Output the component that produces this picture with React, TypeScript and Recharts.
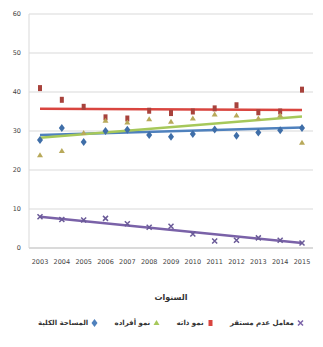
import { ComposedChart, Line, XAxis, YAxis, CartesianGrid, ReferenceLine } from "recharts";

const years = ["2003", "2004", "2005", "2006", "2007", "2008", "2009", "2010", "2011", "2012", "2013", "2014", "2015"];
const totalArea = [27.7, 30.8, 27.2, 30.0, 30.3, 29.0, 28.5, 29.2, 30.4, 28.8, 29.6, 30.2, 30.8];
const growthMembers = [23.8, 24.9, 29.5, 32.6, 32.2, 33.0, 32.4, 33.2, 34.2, 34.0, 33.2, 34.0, 27.0];
const growthSelf = [41.0, 38.0, 36.2, 33.5, 33.2, 35.2, 34.6, 35.0, 35.8, 36.6, 34.8, 35.0, 40.6];
const instability = [8.0, 7.3, 7.2, 7.6, 6.2, 5.3, 5.6, 3.6, 1.8, 2.0, 2.6, 2.0, 1.3];

// trend line ends (first year, last year)
const trendArea = [29.0, 30.9];
const trendMembers = [28.3, 33.7];
const trendSelf = [35.7, 35.4];
const trendInstability = [8.0, 1.3];

const yTicks = [0, 10, 20, 30, 40, 50, 60];

const BLUE = "#4f81bd";
const GREEN = "#a6c85a";
const RED = "#d9453f";
const PURPLE = "#7a62a8";

const data = years.map((year, i) => ({
  year,
  area: totalArea[i],
  members: growthMembers[i],
  self: growthSelf[i],
  instability: instability[i],
}));

type Shape = "diamond" | "square" | "triangle" | "cross";

function marker(shape: Shape, color: string) {
  return (props: any) => {
    const { cx, cy, index } = props;
    if (cx == null || cy == null) return <g key={index} />;
    if (shape === "diamond")
      return <path key={index} d={`M${cx},${cy - 4}L${cx + 3},${cy}L${cx},${cy + 4}L${cx - 3},${cy}Z`} fill={color} />;
    if (shape === "square") return <rect key={index} x={cx - 2} y={cy - 3} width={4} height={6} fill={color} />;
    if (shape === "triangle")
      return <path key={index} d={`M${cx},${cy - 3}L${cx + 3},${cy + 2}L${cx - 3},${cy + 2}Z`} fill={color} />;
    return (
      <path key={index} d={`M${cx - 2.5},${cy - 2.5}L${cx + 2.5},${cy + 2.5}M${cx + 2.5},${cy - 2.5}L${cx - 2.5},${cy + 2.5}`} stroke={color} strokeWidth={1.5} />
    );
  };
}

const legendItems: { label: string; color: string; shape: Shape }[] = [
  { label: "المساحة الكلية", color: BLUE, shape: "diamond" },
  { label: "نمو أفراده", color: GREEN, shape: "triangle" },
  { label: "نمو ذاته", color: RED, shape: "square" },
  { label: "معامل عدم مستقر", color: PURPLE, shape: "cross" },
];

function trend(ends: number[], color: string) {
  return (
    <ReferenceLine
      segment={[
        { x: years[0], y: ends[0] },
        { x: years[years.length - 1], y: ends[1] },
      ]}
      stroke={color}
      strokeWidth={2.5}
    />
  );
}

export default function App() {
  return (
    <div style={{ position: "absolute", left: 0, top: 0, width: 323, height: 347, background: "#fff", fontFamily: "'DejaVu Sans', sans-serif" }}>
      <ComposedChart width={323} height={347} data={data} margin={{ top: 14, right: 10, bottom: 39, left: 0 }}>
        <CartesianGrid vertical={false} stroke="#d9d9d9" />
        <XAxis
          dataKey="year"
          padding={{ left: 11, right: 11 }}
          height={60}
          tickLine={false}
          tickSize={0}
          tickMargin={11}
          stroke="#c8c8c8"
          tick={{ fontSize: 6.5, fill: "#444" }}
          interval={0}
          label={{ value: "السنوات", position: "insideBottom", offset: 8, fontSize: 8, fontWeight: 700, fill: "#333" }}
        />
        <YAxis
          width={29}
          domain={[0, 60]}
          ticks={yTicks}
          tickLine={false}
          tickSize={0}
          tickMargin={8}
          stroke="#d9d9d9"
          tick={{ fontSize: 6.5, fill: "#444" }}
        />
        {trend(trendSelf, RED)}
        {trend(trendArea, BLUE)}
        {trend(trendMembers, GREEN)}
        {trend(trendInstability, PURPLE)}
        <Line dataKey="self" stroke="none" dot={marker("square", "#a8423c")} activeDot={false} isAnimationActive={false} />
        <Line dataKey="members" stroke="none" dot={marker("triangle", "#b8a95a")} activeDot={false} isAnimationActive={false} />
        <Line dataKey="area" stroke="none" dot={marker("diamond", "#3f6ea8")} activeDot={false} isAnimationActive={false} />
        <Line dataKey="instability" stroke="none" dot={marker("cross", "#6a5a98")} activeDot={false} isAnimationActive={false} />
      </ComposedChart>
      <div
        style={{
          position: "absolute",
          left: 38,
          top: 319,
          width: 266,
          display: "flex",
          justifyContent: "space-between",
          fontSize: 7,
          fontWeight: 700,
          color: "#333",
        }}
      >
        {legendItems.map((item) => (
          <span key={item.label} style={{ display: "inline-flex", alignItems: "center", gap: 3 }}>
            <span>{item.label}</span>
            <svg width={7} height={8}>
              {marker(item.shape, item.color)({ cx: 3.5, cy: 4, index: 0 })}
            </svg>
          </span>
        ))}
      </div>
    </div>
  );
}
